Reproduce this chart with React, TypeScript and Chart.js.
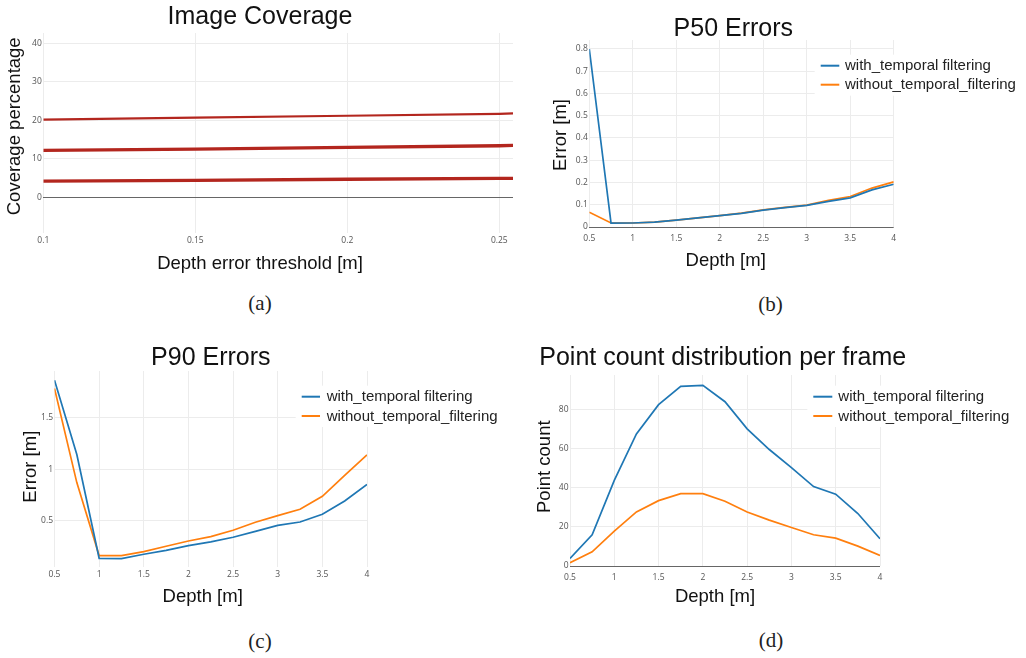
import React, { useEffect, useRef } from "react";
import { Chart, registerables } from "chart.js";
Chart.register(...registerables);
Chart.defaults.font.family = "'Open Sans', 'DejaVu Sans', sans-serif";

// ---------- data ----------
const THRESHOLDS = [0.1, 0.15, 0.2, 0.25, 0.2545];
const COVERAGE_HIGH = [20.2, 20.7, 21.2, 21.7, 21.8];
const COVERAGE_MID = [12.2, 12.5, 13.0, 13.4, 13.5];
const COVERAGE_LOW = [4.2, 4.4, 4.7, 4.9, 4.95];
const THRESH_TICKS = [0.1, 0.15, 0.2, 0.25];
const COVERAGE_TICKS = [0, 10, 20, 30, 40];

const DEPTHS = [0.5, 0.75, 1, 1.25, 1.5, 1.75, 2, 2.25, 2.5, 2.75, 3, 3.25, 3.5, 3.75, 4];
const DEPTH_TICKS = [0.5, 1, 1.5, 2, 2.5, 3, 3.5, 4];

const P50_WITH = [0.8, 0.017, 0.018, 0.022, 0.031, 0.041, 0.051, 0.061, 0.076, 0.087, 0.097, 0.115, 0.131, 0.167, 0.192];
const P50_WITHOUT = [0.066, 0.018, 0.018, 0.022, 0.031, 0.041, 0.051, 0.062, 0.077, 0.088, 0.098, 0.12, 0.137, 0.175, 0.203];
const P50_TICKS = [0, 0.1, 0.2, 0.3, 0.4, 0.5, 0.6, 0.7, 0.8];

const P90_WITH = [1.858, 1.14, 0.14, 0.137, 0.179, 0.217, 0.262, 0.298, 0.343, 0.4, 0.458, 0.49, 0.565, 0.693, 0.851];
const P90_WITHOUT = [1.778, 0.87, 0.166, 0.166, 0.204, 0.256, 0.307, 0.349, 0.41, 0.487, 0.552, 0.613, 0.738, 0.94, 1.137];
const P90_TICKS = [0.5, 1, 1.5];

const COUNT_WITH = [3.9, 16, 43.9, 67.7, 82.7, 92.1, 92.6, 84.2, 70.3, 59.7, 50.4, 40.7, 36.8, 26.9, 14];
const COUNT_WITHOUT = [1.7, 7.3, 17.9, 27.7, 33.5, 37.1, 37.1, 33.2, 27.7, 23.5, 19.7, 16, 14.3, 10.2, 5.4];
const COUNT_TICKS = [0, 20, 40, 60, 80];

const LABEL_WITH = "with_temporal filtering";
const LABEL_WITHOUT = "without_temporal_filtering";

// ---------- styles ----------
const BLUE = "#1f77b4";
const ORANGE = "#ff7f0e";
const RED = "#b3261e";
const SANS = "'Liberation Sans', Arial, sans-serif";

const panelText = {
  id: "panelText",
  afterDraw(chart: any, _args: any, opts: any) {
    const ctx = chart.ctx;
    ctx.save();
    if (opts.legend) {
      const lg = opts.legend;
      ctx.fillStyle = "#ffffff";
      ctx.fillRect(lg.x - 6, lg.y - 11, chart.width - lg.x + 6, lg.rowGap * (lg.items.length - 1) + 22);
      lg.items.forEach((it: any, i: number) => {
        const y = lg.y + i * lg.rowGap;
        ctx.strokeStyle = it.color;
        ctx.lineWidth = 2;
        ctx.beginPath();
        ctx.moveTo(lg.x, y);
        ctx.lineTo(lg.x + lg.lineW, y);
        ctx.stroke();
        ctx.fillStyle = "#222";
        ctx.font = `15px ${SANS}`;
        ctx.textAlign = "left";
        ctx.textBaseline = "middle";
        ctx.fillText(it.label, lg.textX, y + 0.5);
      });
    }
    ctx.fillStyle = "#111";
    ctx.textAlign = "center";
    ctx.textBaseline = "alphabetic";
    if (opts.title) {
      ctx.font = `25px ${SANS}`;
      ctx.fillText(opts.title.text, opts.title.x, opts.title.y);
    }
    if (opts.xTitle) {
      ctx.font = `18.5px ${SANS}`;
      ctx.fillText(opts.xTitle.text, opts.xTitle.x, opts.xTitle.y);
    }
    if (opts.yTitle) {
      ctx.font = `18.5px ${SANS}`;
      ctx.translate(opts.yTitle.x, opts.yTitle.y);
      ctx.rotate(-Math.PI / 2);
      ctx.fillText(opts.yTitle.text, 0, 0);
    }
    ctx.restore();
  },
};

function axis(min: number, max: number, ticks: number[], pad: number, isX: boolean, size: number) {
  return {
    type: "linear",
    min,
    max,
    afterFit: (s: any) => {
      if (isX) s.height = size;
      else s.width = size;
    },
    afterBuildTicks: (s: any) => {
      s.ticks = ticks.map((v) => ({ value: v }));
    },
    ticks: {
      font: { size: 8.5 },
      color: "#555",
      padding: pad,
      autoSkip: false,
      maxRotation: 0,
      callback: (v: any) => String(v),
    },
    grid: {
      drawTicks: false,
      lineWidth: 1,
      color: (c: any) => (c.tick && c.tick.value === 0 ? "#666" : "#ececec"),
    },
    border: { display: false },
  };
}

function series(xs: number[], ys: number[], color: string, width: number) {
  return {
    data: xs.map((x, i) => ({ x, y: ys[i] })),
    borderColor: color,
    backgroundColor: color,
    borderWidth: width,
    pointRadius: 0,
    fill: false,
    tension: 0,
  };
}

// area: chart area edges in canvas pixels
function makeConfig(p: any) {
  const a = p.area;
  return {
    type: "line",
    data: { datasets: p.datasets },
    options: {
      responsive: false,
      animation: false,
      layout: { padding: { left: 0, bottom: 0, top: a.top, right: p.width - a.right } },
      plugins: {
        legend: { display: false },
        tooltip: { enabled: false },
        panelText: p.text,
      },
      scales: {
        x: axis(p.x.min, p.x.max, p.x.ticks, p.x.pad, true, p.height - a.bottom),
        y: axis(p.y.min, p.y.max, p.y.ticks, p.y.pad, false, a.left),
      },
    },
    plugins: [panelText],
  };
}

const legendItems = [
  { label: LABEL_WITH, color: BLUE },
  { label: LABEL_WITHOUT, color: ORANGE },
];

const PANELS = [
  {
    left: 0, top: 0, width: 520, height: 290,
    config: () =>
      makeConfig({
        width: 520, height: 290,
        datasets: [
          series(THRESHOLDS, COVERAGE_HIGH, RED, 2.2),
          series(THRESHOLDS, COVERAGE_MID, RED, 3.3),
          series(THRESHOLDS, COVERAGE_LOW, RED, 3.3),
        ],
        area: { left: 43.3, top: 33, right: 513, bottom: 233 },
        x: { min: 0.1, max: 0.2545, ticks: THRESH_TICKS, pad: 2 },
        y: { min: -9.27, max: 42.7, ticks: COVERAGE_TICKS, pad: 1.5 },
        text: {
          title: { text: "Image Coverage", x: 260, y: 23.5 },
          xTitle: { text: "Depth error threshold [m]", x: 260, y: 268.5 },
          yTitle: { text: "Coverage percentage", x: 20.1, y: 126.3 },
        },
      }),
  },
  {
    left: 520, top: 0, width: 506, height: 290,
    config: () =>
      makeConfig({
        width: 506, height: 290,
        datasets: [series(DEPTHS, P50_WITH, BLUE, 1.7), series(DEPTHS, P50_WITHOUT, ORANGE, 1.7)],
        area: { left: 69.3, top: 40, right: 373.7, bottom: 227 },
        x: { min: 0.5, max: 4, ticks: DEPTH_TICKS, pad: 6 },
        y: { min: 0, max: 0.8404, ticks: P50_TICKS, pad: 1.5 },
        text: {
          title: { text: "P50 Errors", x: 213.3, y: 36 },
          xTitle: { text: "Depth [m]", x: 205.7, y: 265.5 },
          yTitle: { text: "Error [m]", x: 45.5, y: 135 },
          legend: { x: 300.7, lineW: 18.6, textX: 325, y: 65.7, rowGap: 19, items: legendItems },
        },
      }),
  },
  {
    left: 0, top: 320, width: 520, height: 300,
    config: () =>
      makeConfig({
        width: 520, height: 300,
        datasets: [series(DEPTHS, P90_WITH, BLUE, 1.7), series(DEPTHS, P90_WITHOUT, ORANGE, 1.7)],
        area: { left: 54.5, top: 51, right: 367, bottom: 247 },
        x: { min: 0.5, max: 4, ticks: DEPTH_TICKS, pad: 2 },
        y: { min: 0.056, max: 1.946, ticks: P90_TICKS, pad: 1.5 },
        text: {
          title: { text: "P90 Errors", x: 210.8, y: 45 },
          xTitle: { text: "Depth [m]", x: 202.7, y: 281.5 },
          yTitle: { text: "Error [m]", x: 36.2, y: 146.7 },
          legend: { x: 301.7, lineW: 18.3, textX: 326.7, y: 76.7, rowGap: 19.3, items: legendItems },
        },
      }),
  },
  {
    left: 520, top: 320, width: 506, height: 300,
    config: () =>
      makeConfig({
        width: 506, height: 300,
        datasets: [series(DEPTHS, COUNT_WITH, BLUE, 1.7), series(DEPTHS, COUNT_WITHOUT, ORANGE, 1.7)],
        area: { left: 50, top: 55, right: 360, bottom: 246 },
        x: { min: 0.5, max: 4, ticks: DEPTH_TICKS, pad: 6.5 },
        y: { min: 0, max: 97.9, ticks: COUNT_TICKS, pad: 1.5 },
        text: {
          title: { text: "Point count distribution per frame", x: 202.7, y: 44.7 },
          xTitle: { text: "Depth [m]", x: 195, y: 281.5 },
          yTitle: { text: "Point count", x: 29.8, y: 146.7 },
          legend: { x: 293.3, lineW: 19, textX: 318.3, y: 76.7, rowGap: 19.3, items: legendItems },
        },
      }),
  },
];

const CAPTIONS = [
  { text: "(a)", x: 260, y: 303 },
  { text: "(b)", x: 770.5, y: 304 },
  { text: "(c)", x: 260, y: 641 },
  { text: "(d)", x: 771, y: 640 },
];

function Panel(props: any) {
  const ref = useRef<HTMLCanvasElement>(null);
  useEffect(() => {
    const chart = new Chart(ref.current as any, props.config() as any);
    return () => chart.destroy();
  }, []);
  return (
    <canvas
      ref={ref}
      width={props.width}
      height={props.height}
      style={{ position: "absolute", left: props.left, top: props.top, width: props.width, height: props.height }}
    />
  );
}

export default function App() {
  return (
    <div style={{ position: "absolute", left: 0, top: 0, width: 1026, height: 658, background: "#fff", overflow: "hidden" }}>
      {PANELS.map((p, i) => (
        <Panel key={i} {...p} />
      ))}
      {CAPTIONS.map((c, i) => (
        <div
          key={"c" + i}
          style={{
            position: "absolute",
            left: c.x,
            top: c.y,
            transform: "translate(-50%, -50%)",
            fontFamily: "'Liberation Serif', 'DejaVu Serif', serif",
            fontSize: 21,
            lineHeight: 1,
            color: "#222",
            whiteSpace: "nowrap",
          }}
        >
          {c.text}
        </div>
      ))}
    </div>
  );
}
